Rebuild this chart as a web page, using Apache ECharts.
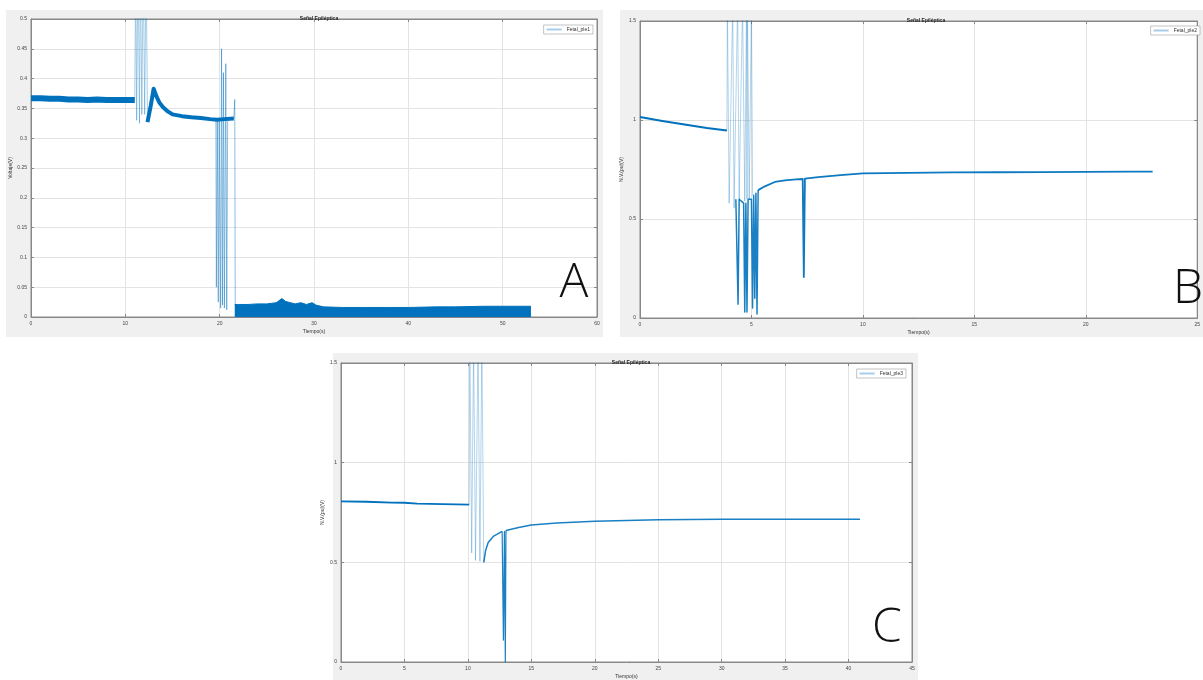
<!DOCTYPE html>
<html><head><meta charset="utf-8">
<script src="https://cdn.jsdelivr.net/npm/echarts@6/dist/echarts.min.js"></script>
<style>html,body{margin:0;padding:0;background:#fff;}#c{width:1203px;height:680px;}</style>
</head><body><div id="c"></div>
<script>
// ---------- data ----------
const titleText = 'Señal Epiléptica';
const xName = 'Tiempo(s)';
const yNameA = 'Voltaje(V)';
const yNameBC = 'N.V.(pu)(V)';
const legendNames = ['Fetal_ple1', 'Fetal_ple2', 'Fetal_ple3'];

// Panel A
const aBaseline = [[0,0.367],[1,0.367],[2,0.366],[3,0.366],[4,0.365],[5,0.365],[6,0.364],[7,0.365],[8,0.364],[9,0.364],[10,0.364],[11,0.364]];
const aBurst1 = [[11,0.364],[11.1,0.6],[11.2,0.33],[11.35,0.6],[11.5,0.325],[11.6,0.6],[11.75,0.34],[11.9,0.6],[12.05,0.34],[12.2,0.6],[12.35,0.327]];
const aRecovery = [[12.35,0.327],[12.7,0.355],[13.0,0.383],[13.3,0.37],[13.6,0.36],[14,0.352],[14.5,0.345],[15,0.34],[16,0.337],[17,0.335],[18,0.334],[19,0.332],[19.7,0.331],[20.5,0.332],[21.5,0.333]];
const aBurst2 = [[19.6,0.331],[19.65,0.05],[19.75,0.331],[19.85,0.025],[19.95,0.33],[20.1,0.015],[20.2,0.45],[20.3,0.02],[20.4,0.41],[20.5,0.015],[20.65,0.425],[20.75,0.012],[20.85,0.33],[21.5,0.333],[21.6,0.365],[21.65,0.02]];
const aTail = [[21.6,0.021],[22,0.021],[23,0.021],[24,0.022],[25,0.022],[26,0.024],[26.6,0.031],[27,0.026],[28,0.022],[28.6,0.024],[29.2,0.021],[29.8,0.024],[30.2,0.02],[31,0.017],[33,0.016],[35,0.016],[38,0.016],[40,0.016],[43,0.017],[45,0.017],[48,0.018],[50,0.018],[53,0.018]];

// Panel B
const bPre = [[0,1.015],[1,0.995],[2,0.977],[3,0.96],[3.9,0.947]];
const bBurst = [[3.9,0.947],[3.92,1.6],[4.0,0.58],[4.16,1.6],[4.22,0.555],[4.38,1.6],[4.45,0.6],[4.6,1.6],[4.7,0.59],[4.78,1.6],[4.8,0.6],[4.82,1.6],[4.9,0.6],[5.0,1.6],[5.05,0.62]];
const bDown = [[4.3,0.6],[4.4,0.07],[4.45,0.6],[4.65,0.58],[4.7,0.03],[4.75,0.58],[4.8,0.03],[4.85,0.6],[5.0,0.6],[5.05,0.05],[5.1,0.62],[5.15,0.1],[5.2,0.63],[5.25,0.02],[5.3,0.646]];
const bRecovery = [[5.3,0.646],[5.6,0.665],[6.05,0.687],[6.5,0.695],[7,0.7],[7.3,0.702],[7.35,0.207],[7.4,0.704],[8,0.712],[9,0.722],[10,0.73],[12,0.733],[14,0.735],[16,0.736],[18,0.737],[20,0.738],[22,0.739],[23,0.739]];

// Panel C
const cPre = [[0,0.806],[2,0.804],[4,0.8],[5,0.799],[6,0.795],[8,0.792],[10.1,0.79]];
const cBurst = [[10.1,0.79],[10.15,1.6],[10.3,0.547],[10.45,1.6],[10.6,0.51],[10.8,1.6],[10.95,0.505],[11.1,1.6],[11.25,0.5]];
const cRecovery = [[11.25,0.5],[11.4,0.56],[11.6,0.6],[12,0.63],[12.7,0.655]];
const cSpike = [[12.7,0.655],[12.8,0.11],[12.88,0.655],[12.95,0.0],[13.0,0.66]];
const cPost = [[13,0.66],[14,0.675],[15,0.687],[17,0.697],[20,0.706],[25,0.714],[30,0.716],[35,0.716],[40.9,0.716]];

// ---------- chart ----------
const chart = echarts.init(document.getElementById('c'));
const BLUE = '#0072BD';
const FONT = 'Liberation Sans, Arial, sans-serif';
const grids = [
  {left:31, top:19, width:566, height:298},
  {left:640, top:21, width:563, height:297},
  {left:341, top:363, width:571, height:302}
];
const xCfg = [{max:60, interval:10}, {max:25, interval:5}, {max:45, interval:5}];
const yCfg = [{max:0.5, interval:0.05, name:yNameA}, {max:1.5, interval:0.5, name:yNameBC}, {max:1.5, interval:0.5, name:yNameBC}];

const xAxes = [], yAxes = [];
grids.forEach((g, i) => {
  xAxes.push({gridIndex:i, type:'value', min:0, max:xCfg[i].max, interval:xCfg[i].interval,
    name:xName, nameLocation:'middle', nameGap:12, nameTextStyle:{fontSize:5, color:'#333', fontFamily:FONT},
    axisLine:{show:true, onZero:false, lineStyle:{color:'#888', width:1}},
    axisTick:{inside:true, length:3, lineStyle:{color:'#888'}},
    axisLabel:{fontSize:5, color:'#444', margin:4, fontFamily:FONT},
    splitLine:{show:true, lineStyle:{color:'#e3e3e3', width:1}}});
  xAxes.push({gridIndex:i, type:'value', position:'top', min:0, max:xCfg[i].max, interval:xCfg[i].interval,
    axisLine:{show:true, onZero:false, lineStyle:{color:'#888', width:1}},
    axisTick:{inside:true, length:3, lineStyle:{color:'#888'}},
    axisLabel:{show:false}, splitLine:{show:false}});
  yAxes.push({gridIndex:i, type:'value', min:0, max:yCfg[i].max, interval:yCfg[i].interval,
    name:yCfg[i].name, nameLocation:'middle', nameGap:16, nameTextStyle:{fontSize:5, color:'#333', fontFamily:FONT},
    axisLine:{show:true, onZero:false, lineStyle:{color:'#888', width:1}},
    axisTick:{inside:true, length:3, lineStyle:{color:'#888'}},
    axisLabel:{fontSize:5, color:'#444', margin:4, fontFamily:FONT},
    splitLine:{show:true, lineStyle:{color:'#e3e3e3', width:1}}});
  yAxes.push({gridIndex:i, type:'value', position:'right', min:0, max:yCfg[i].max, interval:yCfg[i].interval,
    axisLine:{show:true, onZero:false, lineStyle:{color:'#888', width:1}},
    axisTick:{inside:true, length:3, lineStyle:{color:'#888'}},
    axisLabel:{show:false}, splitLine:{show:false}});
});

function ser(name, gi, data, width, opacity, area) {
  const s = {name:name, type:'line', xAxisIndex:gi*2, yAxisIndex:gi*2, data:data,
    symbol:'none', showSymbol:false, animation:false, clip:true, z:3,
    lineStyle:{color:BLUE, width:width, opacity:opacity, join:'round'}, itemStyle:{color:BLUE}};
  if (area) s.areaStyle = {color:BLUE, opacity:1};
  return s;
}

const series = [
  ser(legendNames[0], 0, aBurst1, 1, 0.35),
  ser(legendNames[0], 0, aBaseline, 6, 1),
  ser(legendNames[0], 0, aRecovery, 4, 1),
  ser(legendNames[0], 0, aBurst2, 1, 0.45),
  ser(legendNames[0], 0, aTail, 1, 1, true),
  ser(legendNames[1], 1, bBurst, 1, 0.3),
  ser(legendNames[1], 1, bPre, 2, 1),
  ser(legendNames[1], 1, bDown, 1.5, 0.9),
  ser(legendNames[1], 1, bRecovery, 1.8, 0.95),
  ser(legendNames[2], 2, cBurst, 1, 0.3),
  ser(legendNames[2], 2, cPre, 1.8, 1),
  ser(legendNames[2], 2, cRecovery, 1.5, 0.9),
  ser(legendNames[2], 2, cSpike, 1.2, 0.9),
  ser(legendNames[2], 2, cPost, 1.5, 0.9)
];

function legend(name, right, top) {
  return {data:[{name:name, icon:'rect', itemStyle:{color:'#a9cde9', opacity:1, borderWidth:0}, lineStyle:{opacity:0}}],
    right:right, top:top,
    orient:'vertical', itemWidth:15, itemHeight:2, itemGap:0, padding:[2,3],
    backgroundColor:'#fff', borderColor:'#9a9a9a', borderWidth:0.6,
    textStyle:{fontSize:5, color:'#333', fontFamily:FONT}, selectedMode:false};
}

const bgRects = [
  {type:'rect', shape:{x:6, y:10, width:597, height:327}, style:{fill:'#f0f0f0'}, z:-10, silent:true},
  {type:'rect', shape:{x:620, y:10, width:583, height:327}, style:{fill:'#f0f0f0'}, z:-10, silent:true},
  {type:'rect', shape:{x:333, y:353, width:585, height:327}, style:{fill:'#f0f0f0'}, z:-10, silent:true},
  {type:'text', x:574, y:283, style:{text:'A', fontSize:48, fontWeight:300, fontFamily:'Open Sans, Noto Sans, sans-serif', fill:'#111', align:'center', verticalAlign:'middle'}, z:20},
  {type:'text', x:1188, y:289, style:{text:'B', fontSize:48, fontWeight:300, fontFamily:'Open Sans, Noto Sans, sans-serif', fill:'#111', align:'center', verticalAlign:'middle'}, z:20},
  {type:'text', x:887, y:628, style:{text:'C', fontSize:48, fontWeight:300, fontFamily:'Open Sans, Noto Sans, sans-serif', fill:'#111', align:'center', verticalAlign:'middle'}, z:20}
];

chart.setOption({
  backgroundColor:'#ffffff',
  animation:false,
  title:[
    {text:titleText, left:314, top:11, textAlign:'center', textStyle:{fontSize:5, fontWeight:'bold', color:'#222', fontFamily:FONT}},
    {text:titleText, left:921, top:13, textAlign:'center', textStyle:{fontSize:5, fontWeight:'bold', color:'#222', fontFamily:FONT}},
    {text:titleText, left:626, top:355, textAlign:'center', textStyle:{fontSize:5, fontWeight:'bold', color:'#222', fontFamily:FONT}}
  ],
  legend:[legend(legendNames[0], 610, 25), legend(legendNames[1], 3, 26), legend(legendNames[2], 297, 369)],
  grid: grids.map(g => Object.assign({show:true, backgroundColor:'#ffffff', borderColor:'#888', borderWidth:1}, g)),
  xAxis:xAxes,
  yAxis:yAxes,
  series:series,
  graphic:bgRects
});
</script></body></html>
